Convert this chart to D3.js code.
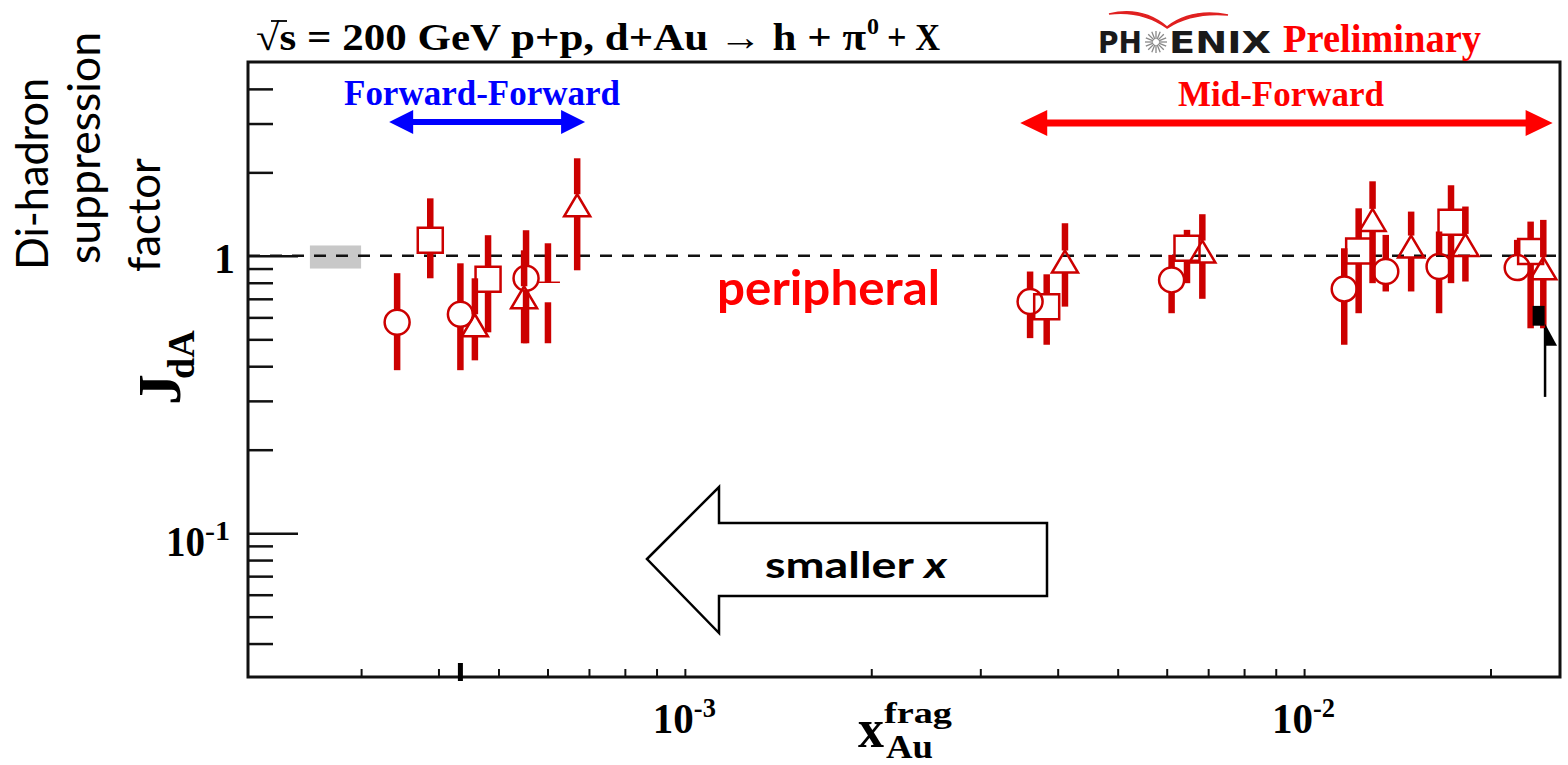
<!DOCTYPE html>
<html>
<head>
<meta charset="utf-8">
<script src="https://cdn.jsdelivr.net/npm/d3@7"></script>
<style>
body { margin: 0; background: #fff; }
</style>
</head>
<body>
<svg id="vis" width="1568" height="765"></svg>
<script>
// each point: [x_Au^frag, J_dA, lower end of bar, upper end of bar]
var circles = [
	[3.43e-4, 0.576, 0.387, 0.866],
	[4.34e-4, 0.616, 0.387, 0.940],
	[5.54e-4, 0.830, 0.484, 1.237],
	[3.61e-3, 0.684, 0.505, 0.878],
	[6.11e-3, 0.819, 0.621, 1.008],
	[1.161e-2, 0.760, 0.478, 1.065],
	[1.355e-2, 0.878, 0.744, 1.190],
	[1.652e-2, 0.915, 0.621, 1.224],
	[2.209e-2, 0.907, 0.819, 1.142]
];
var squares = [
	[3.88e-4, 1.138, 0.830, 1.612],
	[4.81e-4, 0.823, 0.530, 1.187],
	[3.84e-3, 0.656, 0.478, 0.858],
	[6.47e-3, 1.065, 0.797, 1.241],
	[1.225e-2, 1.042, 0.621, 1.484],
	[1.727e-2, 1.322, 0.797, 1.797],
	[2.322e-2, 1.036, 0.548, 1.329]
];
var triangles = [
	[4.58e-4, 0.562, 0.420, 0.830],
	[5.50e-4, 0.709, 0.484, 1.047],
	[6.70e-4, 1.522, 0.887, 2.248],
	[4.11e-3, 0.954, 0.656, 1.311],
	[6.85e-3, 1.036, 0.700, 1.413],
	[1.290e-2, 1.348, 0.797, 1.857],
	[1.489e-2, 1.080, 0.744, 1.444],
	[1.822e-2, 1.095, 0.808, 1.506],
	[2.434e-2, 0.902, 0.548, 1.348]
];
// bar whose marker got covered up
var bareBars = [
	[6.01e-4, 0.739, 0.484, 1.110]
];

var xTicks = [3e-4, 4e-4, 5e-4, 6e-4, 7e-4, 8e-4, 9e-4, 1e-3,
	2e-3, 3e-3, 4e-3, 5e-3, 6e-3, 7e-3, 8e-3, 9e-3, 1e-2, 2e-2];
var xLabels = [[1e-3, "10", "-3"], [1e-2, "10", "-2"]];
var yMinor = [0.04, 0.05, 0.06, 0.07, 0.08, 0.09, 0.2, 0.3, 0.4, 0.5, 0.6, 0.7, 0.8, 0.9, 2, 3, 4];
var yMajor = [0.1, 1];
var yLabels = [[1, "1", ""], [0.1, "10", "-1"]];

// x ranges of the two rapidity selections, normalisation box
var ffRange = [3.33e-4, 6.90e-4];
var mfRange = [3.48e-3, 2.52e-2];
var normBox = [2.48e-4, 3.0e-4, 0.90, 1.09];

var SERIF = "'Liberation Serif', 'Times New Roman', serif";
var SANS = "Lato, 'Open Sans', sans-serif";
var RED = "#cc0000";

var svg = d3.select("#vis");
var x = d3.scaleLog().domain([1.97e-4, 2.59e-2]).range([248, 1560]);
var y = d3.scaleLog().domain([0.0303, 5]).range([677, 62]);

function txt(str, px, py, size, opts) {
	opts = opts || {};
	var t = svg.append("text")
		.attr("x", px).attr("y", py)
		.attr("font-family", opts.family || SERIF)
		.attr("font-weight", opts.weight || "bold")
		.attr("font-size", size)
		.attr("fill", opts.fill || "#000")
		.text(str);
	if (opts.len) t.attr("textLength", opts.len).attr("lengthAdjust", "spacingAndGlyphs");
	if (opts.anchor) t.attr("text-anchor", opts.anchor);
	if (opts.transform) t.attr("transform", opts.transform);
	return t;
}

// ---- normalisation box and y = 1 line
svg.append("rect")
	.attr("x", x(normBox[0])).attr("width", x(normBox[1]) - x(normBox[0]))
	.attr("y", y(normBox[3])).attr("height", y(normBox[2]) - y(normBox[3]))
	.attr("fill", "#c8c8c8");

svg.append("line")
	.attr("x1", x.range()[0]).attr("x2", x.range()[1] - 4)
	.attr("y1", y(1)).attr("y2", y(1))
	.attr("stroke", "#111").attr("stroke-width", 2.5)
	.attr("stroke-dasharray", "12,10");

// ---- axes (ticks point inward like ROOT)
var gx = svg.append("g").attr("transform", "translate(0," + y.range()[0] + ")")
	.call(d3.axisBottom(x).tickValues(xTicks).tickSize(-8).tickSizeOuter(0).tickFormat(""));
gx.select(".domain").remove();
gx.selectAll("line").attr("stroke", "#111").attr("stroke-width", 2);

var gy1 = svg.append("g").attr("transform", "translate(" + x.range()[0] + ",0)")
	.call(d3.axisLeft(y).tickValues(yMinor).tickSize(-25).tickSizeOuter(0).tickFormat(""));
var gy2 = svg.append("g").attr("transform", "translate(" + x.range()[0] + ",0)")
	.call(d3.axisLeft(y).tickValues(yMajor).tickSize(-50).tickSizeOuter(0).tickFormat(""));
[gy1, gy2].forEach(g => {
	g.select(".domain").remove();
	g.selectAll("line").attr("stroke", "#111").attr("stroke-width", 2.5);
});

svg.append("rect")
	.attr("x", x.range()[0]).attr("y", y.range()[1])
	.attr("width", x.range()[1] - x.range()[0]).attr("height", y.range()[0] - y.range()[1])
	.attr("fill", "none").attr("stroke", "#111").attr("stroke-width", 3);

// tick labels
xLabels.forEach(d => {
	txt(d[1], x(d[0]) - 32, 733, 42, {len: 41});
	txt(d[2], x(d[0]) + 9, 717, 27, {len: 22});
});
yLabels.forEach(d => {
	if (d[2] === "") {
		txt(d[1], 235, y(d[0]) + 17, 42, {anchor: "end"});
	} else {
		txt(d[1], 166, y(d[0]) + 23, 42, {len: 39});
		txt(d[2], 205, y(d[0]) + 7, 27, {len: 25});
	}
});

// ---- data: bars broken around open markers
function drawSeries(data, half, shape) {
	var g = svg.append("g");
	g.selectAll("line.up").data(data).join("line")
		.attr("x1", d => x(d[0])).attr("x2", d => x(d[0]))
		.attr("y1", d => y(d[3])).attr("y2", d => y(d[1]) - half)
		.attr("stroke", RED).attr("stroke-width", 6.5);
	g.selectAll("line.dn").data(data).join("line")
		.attr("x1", d => x(d[0])).attr("x2", d => x(d[0]))
		.attr("y1", d => y(d[1]) + half).attr("y2", d => y(d[2]))
		.attr("stroke", RED).attr("stroke-width", 6.5);
	if (!shape) return g;
	g.selectAll("path.m").data(data).join("path")
		.attr("d", d => shape(x(d[0]), y(d[1])))
		.attr("fill", "none").attr("stroke", RED).attr("stroke-width", 2.5);
	return g;
}

var bare = drawSeries(bareBars, 10, null);
bare.selectAll("line.stub").data(bareBars).join("line")
	.attr("x1", d => x(d[0]) - 10).attr("x2", d => x(d[0]) + 12)
	.attr("y1", d => y(d[1]) - 10).attr("y2", d => y(d[1]) - 10)
	.attr("stroke", RED).attr("stroke-width", 1.5);

drawSeries(circles, 12.5, (cx, cy) =>
	"M" + (cx - 12.5) + "," + cy + "a12.5,12.5 0 1,0 25,0a12.5,12.5 0 1,0 -25,0");
drawSeries(squares, 12.5, (cx, cy) =>
	"M" + (cx - 12.5) + "," + (cy - 12.5) + "h25v25h-25z");
drawSeries(triangles, 11, (cx, cy) =>
	"M" + cx + "," + (cy - 11) + "L" + (cx + 13) + "," + (cy + 11) + "L" + (cx - 13) + "," + (cy + 11) + "z");

// leftover black bits from the original figure
svg.append("rect").attr("x", x(4.34e-4) - 2.5).attr("width", 5)
	.attr("y", y.range()[0] - 14).attr("height", 18).attr("fill", "#000");
svg.append("rect").attr("x", x(2.322e-2) + 2).attr("width", 12)
	.attr("y", y(0.66)).attr("height", y(0.56) - y(0.66)).attr("fill", "#000");
svg.append("line").attr("x1", x(2.45e-2)).attr("x2", x(2.45e-2))
	.attr("y1", y(0.55)).attr("y2", y(0.31))
	.attr("stroke", "#000").attr("stroke-width", 2.5);
svg.append("path")
	.attr("d", "M" + x(2.45e-2) + "," + (y(0.55) - 4) + "l12,22h-12z")
	.attr("fill", "#000");

// ---- range arrows
function rangeArrow(r, py, color, w, head, hh) {
	var x0 = x(r[0]), x1 = x(r[1]);
	svg.append("line").attr("x1", x0 + head - 2).attr("x2", x1 - head + 2)
		.attr("y1", py).attr("y2", py).attr("stroke", color).attr("stroke-width", w);
	svg.append("path")
		.attr("d", "M" + x0 + "," + py + "L" + (x0 + head) + "," + (py - hh) + "L" + (x0 + head) + "," + (py + hh) + "Z" +
			"M" + x1 + "," + py + "L" + (x1 - head) + "," + (py - hh) + "L" + (x1 - head) + "," + (py + hh) + "Z")
		.attr("fill", color);
}
rangeArrow(ffRange, 122, "#0000ff", 6, 24, 12);
rangeArrow(mfRange, 123, "#ff0000", 7, 27, 13);
txt("Forward-Forward", 344, 105, 36, {fill: "#0000ff", len: 276});
txt("Mid-Forward", 1178, 106, 36, {fill: "#ff0000", len: 206});

// ---- title and logo
txt("\u221As = 200 GeV p+p, d+Au \u2192 h + \u03C0", 256, 50, 38, {len: 610});
svg.append("line").attr("x1", 271).attr("x2", 287).attr("y1", 21).attr("y2", 21)
	.attr("stroke", "#000").attr("stroke-width", 1.8);
txt("0", 867, 34, 23, {len: 12});
txt("+ X", 887, 50, 38, {len: 53});

txt("PH", 1098, 53, 30, {family: "'DejaVu Sans', sans-serif", fill: "#1a1a1a", len: 44});
txt("ENIX", 1169, 53, 30, {family: "'DejaVu Sans', sans-serif", fill: "#1a1a1a", len: 102});
var star = svg.append("g").attr("transform", "translate(1156,42)");
d3.range(16).forEach(i => {
	var a = i * Math.PI / 8;
	star.append("line")
		.attr("x1", 3 * Math.cos(a)).attr("y1", 3 * Math.sin(a))
		.attr("x2", 11 * Math.cos(a)).attr("y2", 11 * Math.sin(a))
		.attr("stroke", "#888").attr("stroke-width", 1.3);
});
svg.append("path")
	.attr("d", "M1109,14 Q1142,6 1167,27 Q1192,8 1228,15 Q1192,12 1167,28 Q1142,10 1109,14 Z")
	.attr("fill", "#e02020").attr("stroke", "#e02020").attr("stroke-width", 1.5);
txt("Preliminary", 1283, 52, 40, {fill: "#ff0000", len: 198});

// ---- axis titles
txt("x", 858, 747, 55, {len: 26});
txt("frag", 884, 723, 30, {len: 68});
txt("Au", 886, 758, 33, {len: 47});

var gj = svg.append("g").attr("transform", "translate(180,405) rotate(-90)");
gj.append("text").attr("font-family", SERIF).attr("font-weight", "bold")
	.attr("font-size", 62).attr("x", 0).attr("y", 0).text("J");
gj.append("text").attr("font-family", SERIF).attr("font-weight", "bold")
	.attr("font-size", 38).attr("x", 26).attr("y", 14).text("dA");

txt("Di-hadron", 48, 270, 44, {family: SANS, weight: "normal", len: 192, transform: "rotate(-90,48,270)"});
txt("suppression", 100, 264, 44, {family: SANS, weight: "normal", len: 232, transform: "rotate(-90,100,264)"});
txt("factor", 160, 272, 44, {family: SANS, weight: "normal", len: 114, transform: "rotate(-90,160,272)"});

// ---- slide annotations
txt("peripheral", 717, 305, 47, {family: SANS, fill: "#ff0000", len: 223});

svg.append("path")
	.attr("d", "M647,559 L719,487 L719,523 L1047,523 L1047,596 L719,596 L719,633 Z")
	.attr("fill", "#fff").attr("stroke", "#000").attr("stroke-width", 2.5)
	.attr("stroke-linejoin", "miter");
var sm = txt("smaller ", 765, 578, 37, {family: SANS});
sm.append("tspan").attr("font-style", "italic").text("x");
sm.attr("textLength", 182).attr("lengthAdjust", "spacingAndGlyphs");
</script>
</body>
</html>
